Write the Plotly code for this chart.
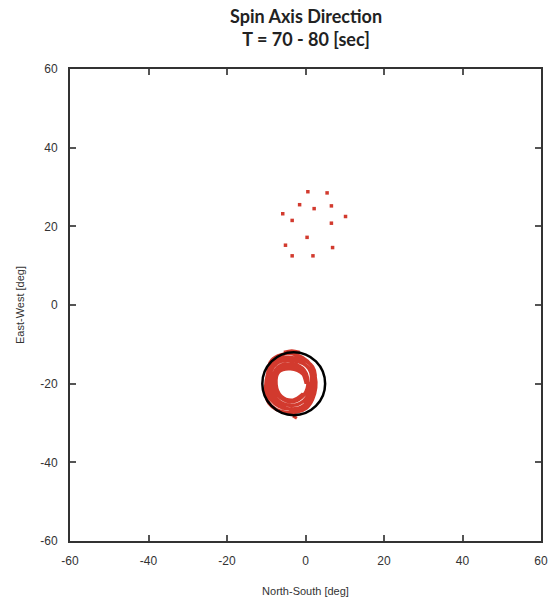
import plotly.graph_objects as go

# Scattered spin-axis samples (North-South, East-West) in deg
scatter_ns = [0.6, 5.5, -1.5, 2.2, 6.6, -5.8, 10.2, -3.4, 6.6, 0.4, -5.1, 6.9, -3.4, 1.9]
scatter_ew = [28.8, 28.5, 25.5, 24.5, 25.2, 23.2, 22.5, 21.5, 20.8, 17.2, 15.2, 14.6, 12.5, 12.5]

# Scribbled trace around the target
trace_ns = [0.2, -1.0, -3.6, -6.6, -7.9, -7.0, -4.0, -0.9, 0.6, -0.3, -3.5, -7.0, -8.6, -7.6,
            -4.2, -0.5, 1.4, 0.9, -2.9, -7.4, -9.4, -8.6, -4.6, -0.2, 2.2, 1.8, -2.4, -7.8,
            -10.0, -9.3, -5.0, 0.2, 2.6, 1.3, -3.4, -8.6, -9.6, -8.0, -4.0, -0.4, 1.0, -0.6,
            -3.8, -6.8, -7.5, -6.2, -3.2, -0.6]
trace_ew = [-20.0, -16.9, -15.6, -16.4, -19.6, -22.9, -24.6, -23.4, -20.4, -16.6, -15.0, -15.8,
            -19.8, -23.6, -25.5, -24.4, -20.6, -16.2, -14.2, -14.9, -19.4, -24.3, -26.4, -25.4,
            -20.8, -15.7, -13.5, -14.2, -19.2, -25.0, -27.3, -26.2, -21.0, -15.2, -12.4, -14.0,
            -18.5, -24.2, -26.5, -25.6, -21.4, -17.6, -16.2, -17.0, -20.2, -23.2, -24.2, -22.6]

# Small stray segments at the top and bottom of the scribble
stub_top_ns = [-5.5, -3.5, -1.5]
stub_top_ew = [-12.0, -11.6, -12.0]
stub_bot_ns = [-3.2, -2.2]
stub_bot_ew = [-28.2, -28.8]

# Target circle
circle_center = (-3.0, -20.0)
circle_radius = 8.0

x_ticks = [-60, -40, -20, 0, 20, 40, 60]
y_ticks = [-60, -40, -20, 0, 20, 40, 60]

RED = "#d23a2e"

fig = go.Figure()
fig.add_trace(go.Scatter(x=trace_ns, y=trace_ew, mode="lines",
                         line=dict(color=RED, width=3.5, shape="spline", smoothing=1.0),
                         showlegend=False, hoverinfo="skip"))
fig.add_trace(go.Scatter(x=stub_top_ns, y=stub_top_ew, mode="lines",
                         line=dict(color=RED, width=3, shape="spline"),
                         showlegend=False, hoverinfo="skip"))
fig.add_trace(go.Scatter(x=stub_bot_ns, y=stub_bot_ew, mode="lines",
                         line=dict(color=RED, width=3),
                         showlegend=False, hoverinfo="skip"))
fig.add_trace(go.Scatter(x=scatter_ns, y=scatter_ew, mode="markers",
                         marker=dict(color=RED, size=3.5, symbol="square"),
                         showlegend=False))

cx, cy = circle_center
fig.add_shape(type="circle", xref="x", yref="y",
              x0=cx - circle_radius, x1=cx + circle_radius,
              y0=cy - circle_radius, y1=cy + circle_radius,
              line=dict(color="black", width=2.5))

fig.add_annotation(text="<b>Spin Axis Direction<br>T = 70 - 80 [sec]</b>",
                   xref="paper", yref="paper", x=0.5, y=1.0, xanchor="center",
                   yanchor="bottom", yshift=17, showarrow=False,
                   font=dict(family="Lato, Open Sans", size=18, color="#222222"))

axis_common = dict(showgrid=False, zeroline=False, ticks="inside", ticklen=6,
                   tickwidth=2, tickcolor="#555555", showline=True, linecolor="#333333",
                   linewidth=2, mirror="ticks", automargin=False,
                   tickfont=dict(family="Liberation Sans, Arial", size=12, color="#333333"))

fig.update_layout(
    width=556, height=601,
    margin=dict(l=70, r=15, t=69, b=60),
    paper_bgcolor="white", plot_bgcolor="white",
    xaxis=dict(range=[-60, 60], tickvals=x_ticks, ticktext=[str(v) for v in x_ticks],
               ticklabelstandoff=8,
               title=dict(text="North-South [deg]", standoff=20,
                          font=dict(family="Liberation Sans, Arial", size=11, color="#333333")),
               **axis_common),
    yaxis=dict(range=[-60, 60], tickvals=y_ticks, ticktext=[str(v) for v in y_ticks],
               ticklabelstandoff=8,
               title=dict(text="East-West [deg]", standoff=13,
                          font=dict(family="Liberation Sans, Arial", size=11, color="#333333")),
               **axis_common),
)

fig.write_html("out.html")
